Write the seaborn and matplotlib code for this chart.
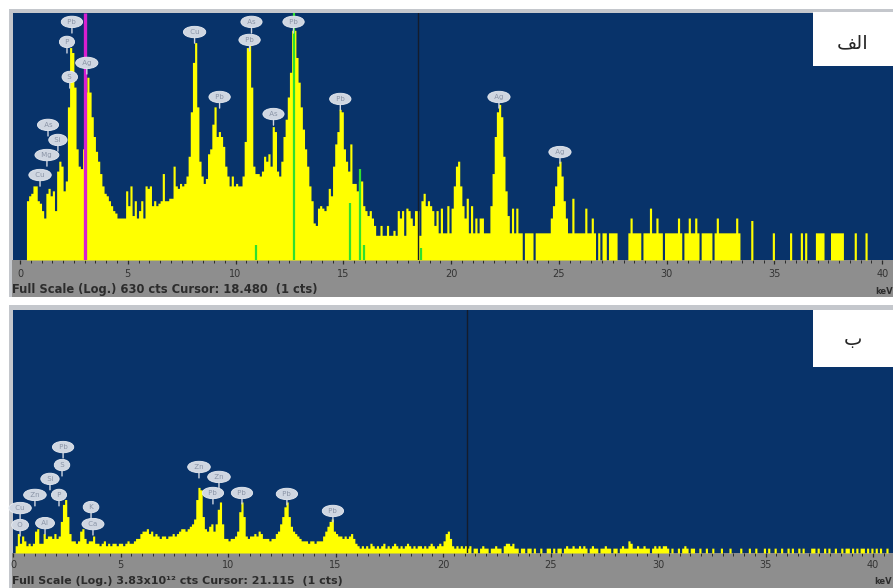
import numpy as np
import pandas as pd
import matplotlib
matplotlib.use("Agg")
import matplotlib.pyplot as plt
import seaborn as sns
from matplotlib.patches import Rectangle

# channel grid: 0.1 keV bins, 0 - 41 keV
BIN_KEV = 0.1
N_BINS = 410

# panel "الف" spectrum, bar height in % of full scale (one line = 1 keV)
spec_a = [
    0, 0, 0, 24, 26, 27, 30, 30, 24, 23,
    20, 17, 27, 29, 26, 28, 20, 36, 40, 38,
    28, 32, 62, 86, 84, 70, 45, 38, 37, 45,
    68, 74, 68, 58, 50, 44, 40, 35, 30, 27,
    26, 24, 22, 20, 19, 17, 17, 17, 17, 28,
    22, 30, 18, 24, 17, 20, 24, 17, 30, 29,
    30, 22, 24, 22, 23, 24, 35, 24, 24, 25,
    25, 38, 30, 29, 31, 30, 31, 34, 42, 60,
    80, 88, 62, 40, 34, 31, 33, 43, 45, 55,
    62, 50, 52, 50, 46, 38, 34, 30, 34, 30,
    31, 30, 30, 34, 48, 86, 87, 70, 38, 35,
    35, 34, 36, 42, 40, 43, 38, 54, 52, 36,
    34, 40, 50, 57, 66, 76, 93, 93, 82, 72,
    62, 53, 45, 38, 30, 24, 15, 14, 21, 22,
    21, 20, 22, 29, 26, 38, 47, 52, 61, 60,
    45, 40, 36, 47, 31, 31, 28, 32, 32, 22,
    20, 18, 20, 17, 14, 10, 10, 14, 10, 10,
    14, 10, 10, 12, 10, 20, 17, 20, 10, 21,
    20, 17, 14, 20, 20, 10, 24, 27, 22, 24,
    22, 20, 14, 20, 11, 21, 11, 11, 22, 11,
    21, 30, 38, 40, 30, 22, 17, 25, 11, 22,
    11, 17, 11, 17, 17, 11, 11, 11, 22, 35,
    50, 60, 63, 58, 42, 28, 18, 11, 21, 11,
    21, 11, 11, 0, 11, 11, 11, 11, 0, 11,
    11, 11, 11, 11, 11, 11, 17, 22, 30, 38,
    40, 34, 24, 17, 11, 11, 25, 11, 11, 11,
    11, 11, 21, 11, 11, 17, 11, 0, 11, 0,
    11, 11, 0, 11, 11, 11, 11, 0, 0, 0,
    0, 0, 11, 17, 11, 11, 11, 11, 0, 11,
    11, 11, 21, 11, 11, 17, 11, 11, 0, 11,
    11, 11, 11, 11, 11, 17, 11, 0, 11, 11,
    17, 11, 11, 17, 11, 0, 11, 11, 11, 11,
    11, 0, 11, 17, 11, 11, 11, 11, 11, 11,
    11, 11, 17, 11, 0, 0, 0, 0, 0, 16,
    0, 0, 0, 0, 0, 0, 0, 0, 0, 11,
    0, 0, 0, 0, 0, 0, 0, 11, 0, 0,
    0, 0, 11, 0, 11, 0, 0, 0, 0, 11,
    11, 11, 11, 0, 0, 0, 11, 11, 11, 11,
    11, 11, 0, 0, 0, 0, 0, 11, 0, 0,
    0, 0, 11, 0, 0, 0, 0, 0, 0, 0,
    0, 0, 0, 0, 0, 0, 0, 0, 0, 0,
]

# panel "ب" spectrum
spec_b = [
    0, 3, 8, 4, 7, 5, 3, 4, 3, 4,
    9, 10, 4, 4, 8, 6, 7, 7, 6, 8,
    6, 7, 13, 20, 22, 15, 8, 5, 5, 4,
    5, 9, 10, 6, 4, 5, 5, 7, 4, 4,
    3, 4, 5, 3, 4, 3, 4, 4, 3, 4,
    4, 3, 4, 5, 4, 4, 5, 6, 6, 8,
    9, 9, 10, 8, 9, 7, 8, 7, 6, 7,
    7, 6, 7, 7, 8, 7, 8, 9, 10, 10,
    9, 10, 11, 12, 14, 22, 27, 26, 15, 10,
    9, 11, 12, 9, 12, 18, 21, 12, 6, 6,
    5, 6, 6, 7, 9, 17, 21, 15, 7, 6,
    7, 7, 8, 7, 9, 8, 6, 6, 6, 5,
    6, 6, 8, 9, 12, 15, 19, 21, 15, 11,
    9, 8, 7, 6, 5, 5, 5, 4, 5, 5,
    4, 5, 5, 5, 7, 9, 11, 13, 14, 9,
    8, 7, 7, 6, 7, 6, 7, 8, 6, 4,
    3, 2, 3, 2, 3, 2, 4, 3, 2, 3,
    2, 3, 4, 2, 3, 2, 3, 4, 3, 2,
    3, 2, 3, 4, 3, 2, 3, 2, 3, 3,
    2, 3, 2, 3, 4, 3, 2, 3, 4, 3,
    5, 8, 9, 6, 3, 2, 3, 2, 3, 2,
    3, 2, 3, 0, 2, 2, 0, 2, 3, 2,
    2, 0, 2, 2, 3, 2, 2, 0, 3, 4,
    4, 3, 4, 2, 2, 0, 2, 2, 0, 2,
    2, 0, 2, 0, 0, 2, 0, 0, 2, 2,
    0, 2, 0, 2, 2, 0, 2, 3, 2, 2,
    3, 2, 2, 3, 2, 3, 2, 0, 2, 3,
    2, 2, 0, 2, 2, 3, 2, 2, 0, 2,
    2, 0, 2, 3, 2, 2, 5, 4, 2, 2,
    3, 2, 2, 3, 2, 2, 0, 2, 3, 2,
    3, 2, 3, 3, 2, 0, 2, 0, 0, 2,
    0, 2, 3, 2, 0, 2, 2, 0, 0, 2,
    0, 0, 2, 0, 0, 2, 0, 0, 0, 2,
    0, 0, 0, 2, 0, 0, 0, 0, 2, 0,
    0, 0, 2, 0, 0, 2, 0, 0, 0, 2,
    0, 2, 0, 0, 2, 0, 0, 2, 0, 0,
    2, 0, 2, 0, 0, 2, 0, 2, 0, 0,
    0, 2, 2, 0, 2, 0, 0, 2, 0, 2,
    0, 0, 2, 0, 0, 2, 0, 2, 2, 0,
    2, 0, 2, 0, 2, 2, 0, 2, 0, 2,
    0, 2, 0, 2, 0, 0, 2, 0, 0, 0,
]

# peak labels: element, energy (keV), label height (%)
names_a = ["Cu", "Mg", "Si", "As", "S", "P", "Pb", "Ag", "Cu", "Pb",
           "As", "Pb", "As", "Pb", "Pb", "Ag", "Ag"]
keV_a = [0.93, 1.25, 1.76, 1.30, 2.31, 2.18, 2.41, 3.10, 8.10, 9.26,
         10.74, 10.65, 11.76, 12.69, 14.86, 22.22, 25.05]
pos_a = [34.4, 42.5, 48.6, 54.7, 74.1, 88.3, 96.4, 79.8, 92.3, 66.0,
         96.4, 89.1, 59.1, 96.4, 65.2, 66.0, 43.7]

names_b = ["Cu", "O", "Zn", "Al", "Si", "S", "Pb", "P", "K", "Ca",
           "Zn", "Zn", "Pb", "Pb", "Pb", "Pb"]
keV_b = [0.33, 0.33, 1.02, 1.49, 1.72, 2.28, 2.33, 2.14, 3.63, 3.72,
         8.65, 9.58, 9.30, 10.65, 12.74, 14.88]
pos_b = [18.5, 11.5, 23.9, 12.3, 30.5, 36.2, 43.6, 23.9, 18.9, 11.9,
         35.4, 31.3, 24.7, 24.7, 24.3, 17.3]

# marker lines on panel "الف": energy, top (%)
magenta_keV = [3.03]
magenta_top = [100]
green_keV = [12.70, 10.95, 15.30, 15.78, 15.97, 18.62]
green_top = [100, 6, 23, 37, 6, 5]

cursor_a = 18.480
cursor_b = 21.115
status_a = "Full Scale (Log.) 630 cts Cursor: 18.480  (1 cts)"
status_b = "Full Scale (Log.) 3.83x10\u00b9\u00b2 cts Cursor: 21.115  (1 cts)"
panel_a = "\ufed2\ufedf\ufe8d"   # "الف" in visual (shaped) order
panel_b = "\u0628"               # "ب"

BLUE = "#08336a"
YELLOW = "#ffff00"
GREY = "#8e8e8e"
W, H = 893, 588

sns.set_theme(style="white")
plt.rcParams["font.family"] = ["DejaVu Sans"]

fig = plt.figure(figsize=(W / 100, H / 100), dpi=100)
fig.patch.set_facecolor("white")


def px_rect(x0, y0, x1, y1, color, z=-1):
    fig.patches.append(Rectangle((x0 / W, 1 - y1 / H), (x1 - x0) / W, (y1 - y0) / H,
                                 transform=fig.transFigure, color=color, zorder=z, lw=0))


def draw_panel(ax, spec, names, energies, heights, cursor, xlim, pad):
    centers = np.round(np.arange(N_BINS) * BIN_KEV + BIN_KEV / 2, 3)
    df = pd.DataFrame({"keV": centers, "cts": np.asarray(spec, dtype=float)})
    sns.histplot(data=df, x="keV", weights="cts", binwidth=BIN_KEV,
                 binrange=(0, N_BINS * BIN_KEV), element="step",
                 fill=True, color=YELLOW, alpha=1.0, linewidth=0, ax=ax)
    ax.set_facecolor(BLUE)
    ax.set_xlim(*xlim)
    ax.set_ylim(0, 100)
    ax.set_xlabel("")
    ax.set_ylabel("")
    ax.set_yticks([])
    ax.set_xticks(np.arange(0, 41, 5))
    ax.set_xticks(np.arange(0, 41, 0.5), minor=True)
    ax.tick_params(axis="x", which="major", length=3, width=0.9, color="#2a2a2a",
                   pad=pad, labelsize=7, labelcolor="#333333", direction="out", bottom=True)
    ax.tick_params(axis="x", which="minor", length=2.2, width=0.7, color="#2a2a2a",
                   direction="out", bottom=True)
    for s in ax.spines.values():
        s.set_visible(False)
    ax.axvline(cursor, color="#141c2c", lw=1.0, zorder=4)
    for name, e, h in zip(names, energies, heights):
        ax.annotate(f" {name} ", xy=(e, h - 4.5), xytext=(e, h), ha="center", va="center",
                    fontsize=5, color="#8a94a6", zorder=6,
                    bbox=dict(boxstyle="ellipse,pad=0.15", fc="#cfd6e1", ec="#e8ecf2", lw=0.6),
                    arrowprops=dict(arrowstyle="-", color="#cfd6e1", lw=1.0,
                                    shrinkA=0, shrinkB=0))


# frames and grey status strips
px_rect(9, 9, W, 13, "#c4c7cc")
px_rect(9, 9, 13, 297, "#c4c7cc")
px_rect(12, 260, W, 297, GREY)
px_rect(9, 305, W, 310, "#c4c7cc")
px_rect(9, 305, 13, 588, "#c4c7cc")
px_rect(12, 553, W, 588, GREY)

ax_a = fig.add_axes([13 / W, 1 - 260 / H, 880 / W, 247 / H])
draw_panel(ax_a, spec_a, names_a, keV_a, pos_a, cursor_a, (-0.324, 40.42), 3.5)
for e, t in zip(magenta_keV, magenta_top):
    ax_a.vlines(e, 0, t, color="#d81fd0", lw=2.4, zorder=3)
for e, t in zip(green_keV, green_top):
    ax_a.vlines(e, 0, t, color="#2ee02e", lw=1.6, zorder=3)

ax_b = fig.add_axes([13 / W, 35 / H, 880 / W, 243 / H])
draw_panel(ax_b, spec_b, names_b, keV_b, pos_b, cursor_b, (0.0, 40.93), 2.0)

fig.text(12 / W, 1 - 290 / H, status_a, fontsize=8.3, fontweight="bold", color="#2c2c2c", va="center")
fig.text(12 / W, 1 - 580.5 / H, status_b, fontsize=8.0, fontweight="bold", color="#2c2c2c", va="center")
fig.text(875 / W, 1 - 291 / H, "keV", fontsize=6, fontweight="bold", color="#2c2c2c", va="center")
fig.text(874 / W, 1 - 582 / H, "keV", fontsize=6, fontweight="bold", color="#2c2c2c", va="center")

# white panel tags
px_rect(813, 12, W, 66, "white", z=5)
px_rect(813, 310, W, 367, "white", z=5)
fig.text(853 / W, 1 - 43 / H, panel_a, fontsize=14, family=["DejaVu Sans"],
         ha="center", va="center", zorder=6)
fig.text(853 / W, 1 - 340 / H, panel_b, fontsize=14, family=["DejaVu Sans"],
         ha="center", va="center", zorder=6)

fig.savefig("out.png", dpi=100, facecolor="white")
